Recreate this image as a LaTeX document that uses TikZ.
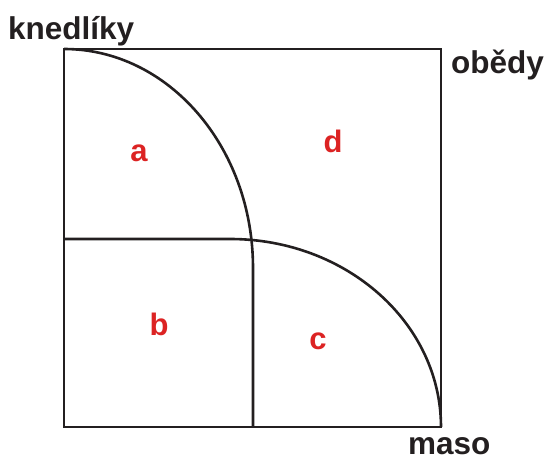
\documentclass[tikz,border=0pt]{standalone}
\usepackage{fontspec}
\setmainfont{Liberation Sans}
\definecolor{ink}{RGB}{35,31,32}
\definecolor{lblred}{RGB}{220,35,35}
\begin{document}
\begin{tikzpicture}[x=1pt,y=-1pt,
  outline/.style={draw=ink,line width=2.6pt,line join=miter},
  axislabel/.style={inner sep=0pt,text=ink,font=\fontsize{31.5}{36}\selectfont\bfseries},
  region/.style={inner sep=0pt,text=lblred,font=\fontsize{31}{36}\selectfont\bfseries}]
\useasboundingbox (0,0) rectangle (547,462);
\draw[outline] (64,49) rectangle (441,427);
\draw[outline] (64,49) arc[start angle=-90,end angle=0,x radius=189,y radius=219] -- (253,427);
\draw[outline] (64,239) -- (230,239) arc[start angle=-90,end angle=0,x radius=211,y radius=188];
\node[axislabel,anchor=base west] (kn) at (8,40) {knedlíky};
\node[axislabel,anchor=base west] (ob) at (451,74) {obědy};
\node[axislabel,anchor=base west] (ma) at (408,455) {maso};
\node[region] (a) at (139,153) {a};
\node[region] (d) at (333,141) {d};
\node[region] (b) at (159,324) {b};
\node[region] (c) at (318,341) {c};
\end{tikzpicture}
\end{document}
